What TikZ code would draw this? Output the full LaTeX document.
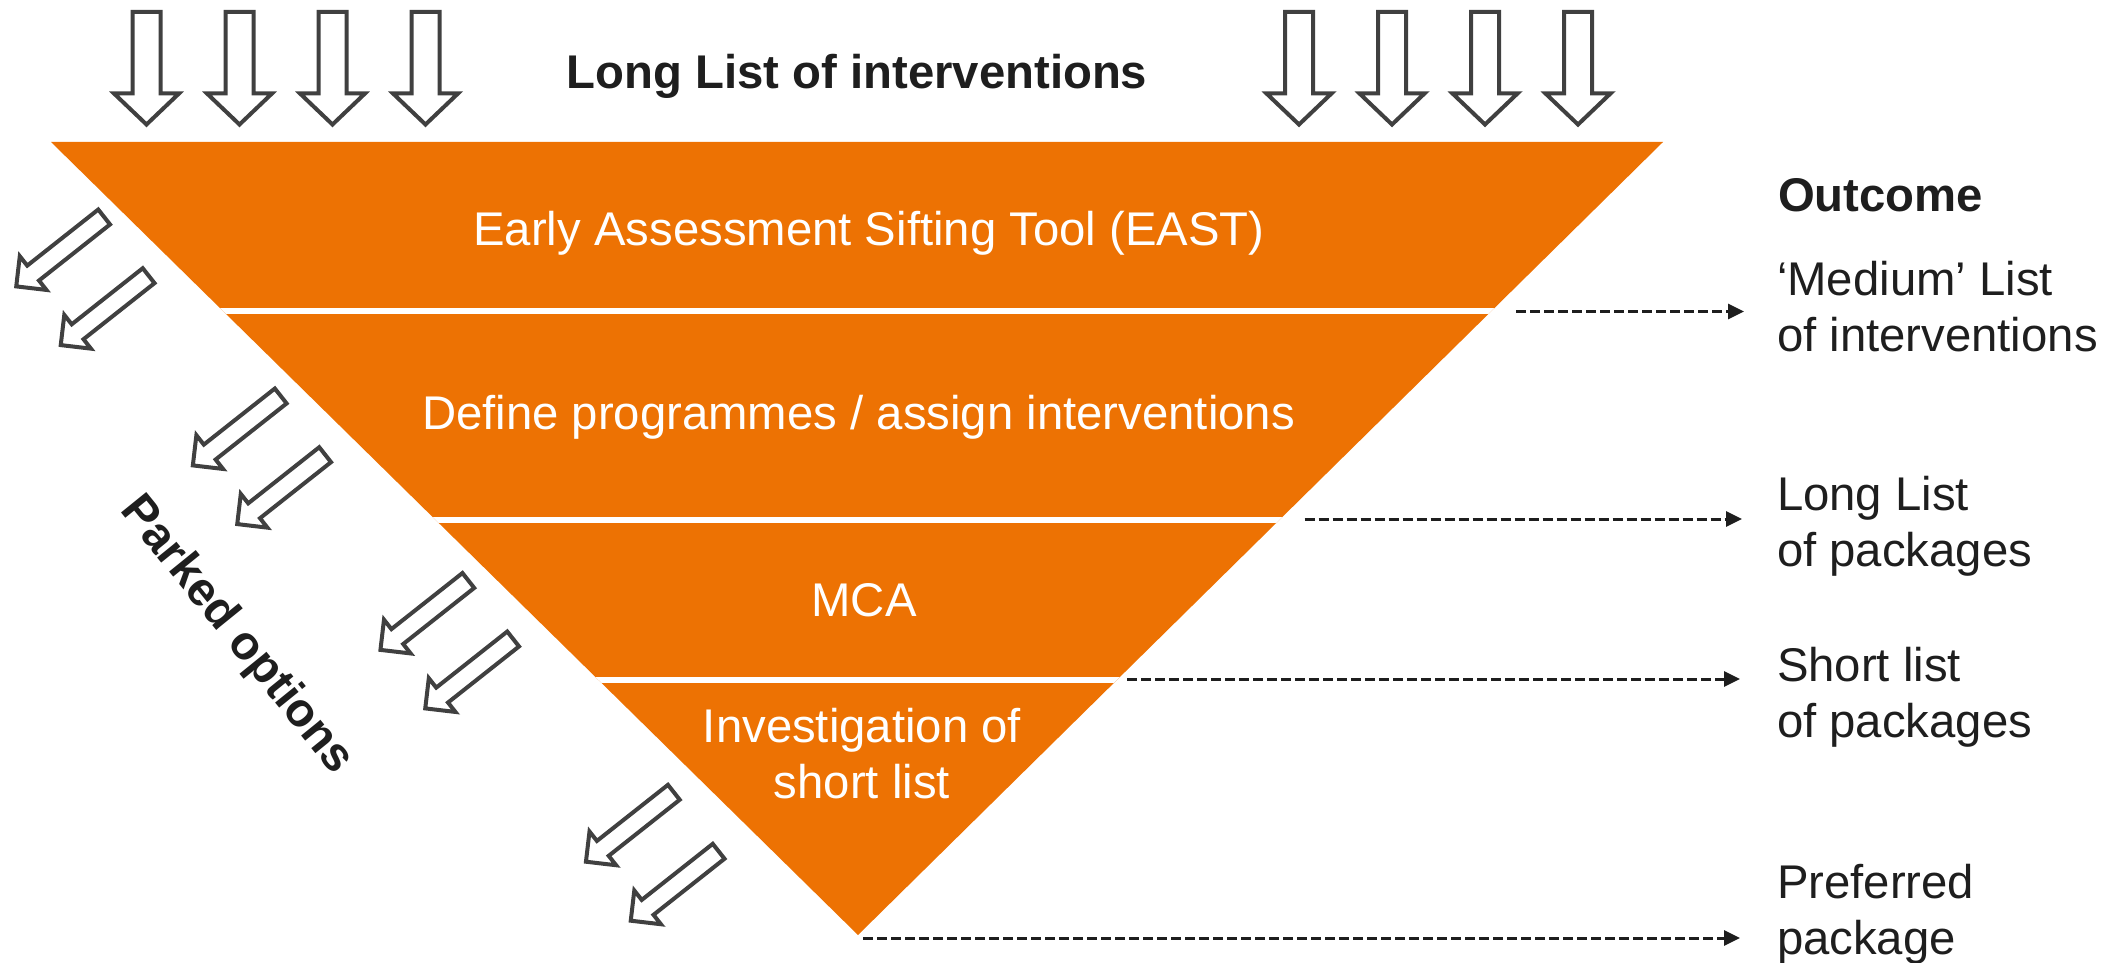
\documentclass[tikz,border=0pt]{standalone}
\usepackage{fontspec}
\setmainfont{Liberation Sans}
\usetikzlibrary{arrows.meta}
\definecolor{funnel}{RGB}{237,114,3}
\definecolor{ink}{RGB}{30,30,30}
\definecolor{outline}{RGB}{64,64,64}
\begin{document}
\begin{tikzpicture}[x=1pt,y=-1pt,
  every node/.style={inner sep=0pt, outer sep=0pt},
  bandtext/.style={text=white, font=\fontsize{47.3}{55.6}\selectfont, align=center, anchor=base},
  outtext/.style={text=ink, font=\fontsize{47.3}{56}\selectfont, align=left, anchor=base west},
  headtext/.style={text=ink, font=\fontsize{47.3}{56}\selectfont\bfseries, anchor=base west},
  hollow/.style={draw=outline, fill=white, line width=4pt, line join=miter},
  dasharrow/.style={draw=ink, line width=3pt, dash pattern=on 10pt off 4pt, -{Triangle[length=16pt,width=15pt]}},
  divider/.style={draw=white, line width=6pt},
  downarrow/.pic={\path[hollow] (-14,12) -- (14,12) -- (14,93.5) -- (32.5,93.5) -- (0,124.5) -- (-32.5,93.5) -- (-14,93.5) -- cycle;},
  parkarrow/.pic={\path[hollow] (-9.5,-56.5) -- (9.5,-56.5) -- (9.5,34) -- (21.5,34) -- (0,55.5) -- (-21.5,34) -- (-9.5,34) -- cycle;}
]
\useasboundingbox (0,0) rectangle (2125,963);

% funnel
\coordinate (TL) at (51,142);
\coordinate (TR) at (1663,142);
\coordinate (AP) at (858,935);
\fill[funnel] (TL) -- (TR) -- (AP) -- cycle;
\begin{scope}
  \clip (TL) -- (TR) -- (AP) -- cycle;
  \draw[divider] (0,311) -- (2125,311);
  \draw[divider] (0,519.5) -- (2125,519.5);
  \draw[divider] (0,679.7) -- (2125,679.7);
\end{scope}

% incoming arrows
\foreach \cx in {146.5,239.5,332.5,425.5,1299,1392,1485,1578}
  \pic at (\cx,0) {downarrow};

% parked arrows
\foreach \px/\py in {59.8/252,104.3/310.7,236.4/431,280.8/489.7,424/615.5,468.8/674,629.5/827.3,674.3/886.3}
  \pic[rotate=-51.7] at (\px,\py) {parkarrow};

% texts (multi-line nodes: base = last line)
\node[headtext] (title) at (566.5,88.3) {Long List of interventions};
\node[bandtext] (east) at (869,245.7) {Early Assessment Sifting Tool (EAST)};
\node[bandtext] (define) at (858.5,429.6) {Define programmes / assign interventions};
\node[bandtext] (mca) at (864,616.7) {MCA};
\node[bandtext] (invest) at (862,798.3) {Investigation of\\short list};
\node[headtext] (outcome) at (1778,211.7) {Outcome};
\node[outtext] (medium) at (1777,351.7) {‘Medium’ List\\of interventions};
\node[outtext] (longp) at (1777,566.7) {Long List\\of packages};
\node[outtext] (shortp) at (1777,737) {Short list\\of packages};
\node[outtext] (pref) at (1777,954) {Preferred\\package};
\node[headtext, rotate=-51] (parked) at (119.4,510.5) {Parked options};

% outcome connectors
\coordinate (s1) at (1516,311.5);
\coordinate (e1) at (1744,311.5);
\coordinate (s2) at (1304.5,519);
\coordinate (e2) at (1742,519);
\coordinate (s3) at (1127,679);
\coordinate (e3) at (1740,679);
\coordinate (s4) at (863,938);
\coordinate (e4) at (1740,938);
\draw[dasharrow] (s1) -- (e1);
\draw[dasharrow] (s2) -- (e2);
\draw[dasharrow] (s3) -- (e3);
\draw[dasharrow] (s4) -- (e4);
\end{tikzpicture}
\end{document}
